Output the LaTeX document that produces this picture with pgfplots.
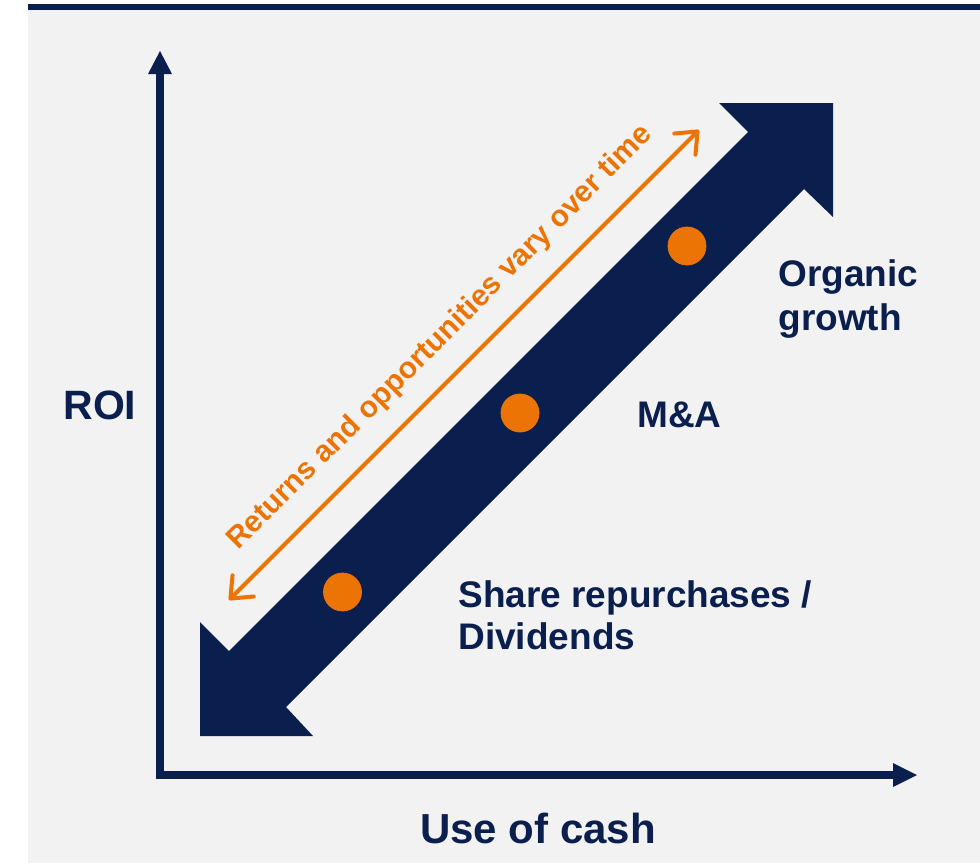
\documentclass[border=0pt]{standalone}
\usepackage{pgfplots}
\pgfplotsset{compat=1.18}
\usepackage{fontspec}
\setmainfont{Liberation Sans}
\usetikzlibrary{arrows.meta}
\definecolor{navy}{HTML}{0A1F4D}
\definecolor{orng}{HTML}{EC7404}
\definecolor{bg}{HTML}{F2F2F2}
\begin{document}
\begin{tikzpicture}
\begin{axis}[hide axis, scale only axis, width=490pt, height=431.5pt,
  xmin=0, xmax=980, ymin=0, ymax=863, y dir=reverse, clip=false]
% background
\addplot[fill=white, draw=none] coordinates {(0,0) (980,0) (980,863) (0,863)};
\addplot[fill=bg, draw=none] coordinates {(28,4) (980,4) (980,863) (28,863)};
\addplot[fill=navy, draw=none] coordinates {(28,4) (980,4) (980,10) (28,10)};
% axes
\addplot[navy, line width=4pt, line cap=butt] coordinates {(160,779) (160,73)};
\addplot[fill=navy, draw=none] coordinates {(148,74) (172,74) (160,51)};
\addplot[navy, line width=4pt, line cap=butt] coordinates {(156,775) (894,775)};
\addplot[fill=navy, draw=none] coordinates {(893,763) (893,787) (917,775)};
% big double arrow
\addplot[fill=navy, draw=none] coordinates {(200,736) (200,622) (229,651) (748,132) (719,103) (833,103) (833,217) (804,189) (286,707) (313,736)};
% orange dots
\addplot[only marks, mark=*, mark size=9.5pt, color=orng, mark options={fill=orng, draw=none}] coordinates {(342.5,592) (520,413) (687,246)};
% orange thin double arrow
\addplot[orng, line width=2pt, line cap=round,
  arrows={Straight Barb[length=9pt, width=15pt, round]-Straight Barb[length=9pt, width=15pt, round]}]
  coordinates {(229,600) (699,130)};
% texts
\node[anchor=base, rotate=45, inner sep=0pt, text=orng, font=\fontsize{15}{18}\selectfont\bfseries] at (axis cs:446,343.5) {Returns and opportunities vary over time};
\node[anchor=base west, inner sep=0pt, text=navy, font=\fontsize{20.5}{24}\selectfont\bfseries] at (axis cs:63,419) {ROI};
\node[anchor=base, inner sep=0pt, text=navy, font=\fontsize{21}{25}\selectfont\bfseries] at (axis cs:538,843) {Use of cash};
\node[anchor=base west, inner sep=0pt, text=navy, font=\fontsize{18.5}{22}\selectfont\bfseries] at (axis cs:778,286) {Organic};
\node[anchor=base west, inner sep=0pt, text=navy, font=\fontsize{18.5}{22}\selectfont\bfseries] at (axis cs:778,330) {growth};
\node[anchor=base west, inner sep=0pt, text=navy, font=\fontsize{18.5}{22}\selectfont\bfseries] at (axis cs:637,427) {M\&A};
\node[anchor=base west, inner sep=0pt, text=navy, font=\fontsize{18.5}{22}\selectfont\bfseries] at (axis cs:458,607) {Share repurchases /};
\node[anchor=base west, inner sep=0pt, text=navy, font=\fontsize{18.5}{22}\selectfont\bfseries] at (axis cs:458,649) {Dividends};
\end{axis}
\end{tikzpicture}
\end{document}
